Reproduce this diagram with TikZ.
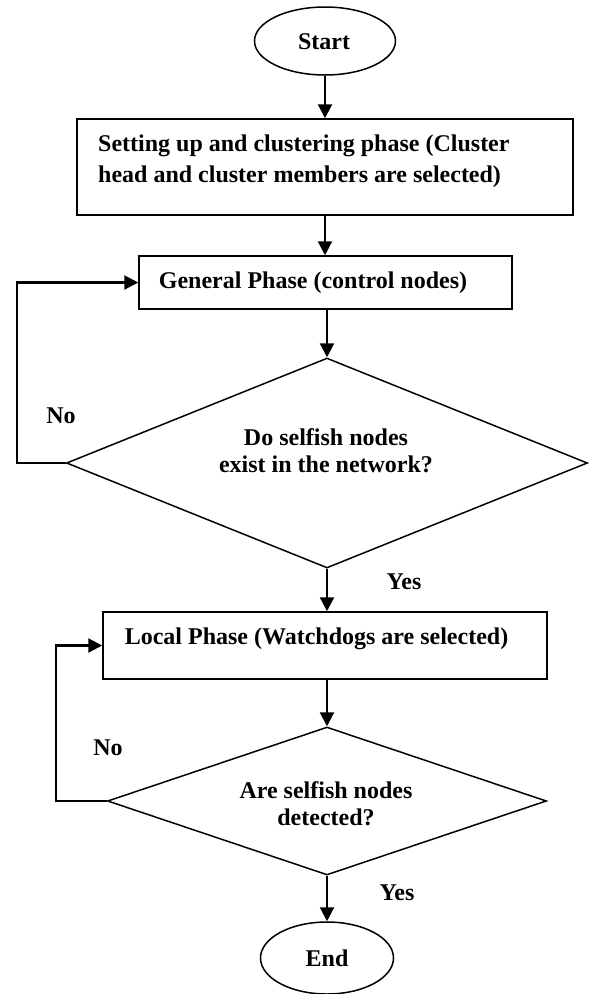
\documentclass[tikz,border=0pt]{standalone}
\usepackage{fontspec}
\setmainfont{Liberation Serif}
\usetikzlibrary{shapes.geometric,arrows.meta}

\tikzset{
  shapeline/.style={draw=black, line width=1.5pt, inner sep=0pt},
  terminal/.style={shapeline, ellipse},
  stepbox/.style={shapeline, rectangle},
  decision/.style={shapeline, diamond},
  txt/.style={font=\fontsize{24}{27}\selectfont\bfseries, inner sep=0pt},
  flow/.style={line width=2.2pt, -{Triangle[length=14pt,width=14pt]}},
  loopline/.style={line width=2.2pt, line join=miter, -{Triangle[length=14pt,width=14pt]}}
}

\begin{document}
\begin{tikzpicture}[x=1pt,y=-1pt]
  \useasboundingbox (0,0) rectangle (589,994);

  % shapes
  \node[terminal, minimum width=141pt, minimum height=68pt] (start) at (325,41) {};
  \node[stepbox, minimum width=496pt, minimum height=96pt] (setup) at (325,167) {};
  \node[stepbox, minimum width=373pt, minimum height=53pt] (general) at (325.5,282.5) {};
  \node[decision, minimum width=521pt, minimum height=210pt] (exist) at (327,463) {};
  \node[stepbox, minimum width=444pt, minimum height=67pt] (local) at (325,645.5) {};
  \node[decision, minimum width=439pt, minimum height=148pt] (detect) at (327,801) {};
  \node[terminal, minimum width=133pt, minimum height=72pt] (end) at (327,958) {};

  % texts
  \node[txt] (tstart) at (324,42) {Start};
  \node[txt, anchor=west, align=left, font=\fontsize{24}{31}\selectfont\bfseries] (tsetup) at (98,161)
    {Setting up and clustering phase (Cluster\\head and cluster members are selected)};
  \node[txt] (tgeneral) at (313,283) {General Phase (control nodes)};
  \node[txt, align=center] (texist) at (326,451) {Do selfish nodes\\exist in the network?};
  \node[txt] (tlocal) at (316.5,639) {Local Phase (Watchdogs are selected)};
  \node[txt, align=center] (tdetect) at (326,804) {Are selfish nodes\\detected?};
  \node[txt] (tend) at (327,958) {End};

  % branch labels
  \node[txt] (no1) at (61,416) {No};
  \node[txt] (yes1) at (404,582) {Yes};
  \node[txt] (no2) at (108,748) {No};
  \node[txt] (yes2) at (397,893) {Yes};

  % corners of the loop-back lines
  \coordinate (back1) at (17,463);
  \coordinate (back2) at (56,801);

  % main flow
  \draw[flow] (start.south) -- (start.south |- setup.north);
  \draw[flow] (setup.south) -- (setup.south |- general.north);
  \draw[flow] (exist.north |- general.south) -- (exist.north);
  \draw[flow] (exist.south) -- (exist.south |- local.north);
  \draw[flow] (detect.north |- local.south) -- (detect.north);
  \draw[flow] (detect.south) -- (end.north);

  % loop-backs on "No"
  \draw[loopline] (exist.west) -- (back1) |- (general.west);
  \draw[loopline] (detect.west) -- (back2) |- (local.west);
\end{tikzpicture}
\end{document}
